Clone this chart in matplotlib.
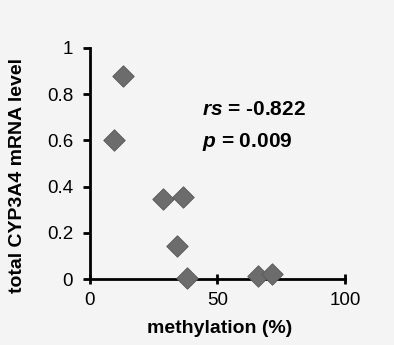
import numpy as np
import matplotlib.pyplot as plt

plt.rcParams['font.family'] = ['Liberation Sans', 'DejaVu Sans']
plt.rcParams['mathtext.fontset'] = 'custom'
plt.rcParams['mathtext.bfit'] = 'Liberation Sans:italic:bold'

methylation = [9.5, 12.9, 28.8, 34.0, 36.3, 38.2, 65.7, 71.2]
mrna_level = [0.60, 0.88, 0.345, 0.145, 0.355, 0.005, 0.012, 0.02]

fig = plt.figure(figsize=(3.94, 3.45), dpi=100, facecolor='#f4f4f4')
ax = fig.add_axes([0.228, 0.191, 0.648, 0.670], facecolor='#f4f4f4')

ax.scatter(methylation, mrna_level, marker='D', s=120, color='#6c6c6c',
           edgecolors='#585858', linewidths=0.6, zorder=3, clip_on=False)

ax.set_xlim(0, 100)
ax.set_ylim(0, 1)
ax.set_xticks([0, 50, 100])
ax.set_yticks([0, 0.2, 0.4, 0.6, 0.8, 1])
ax.set_yticklabels(['0', '0.2', '0.4', '0.6', '0.8', '1'])
for s in ['top', 'right']:
    ax.spines[s].set_visible(False)
for s in ['left', 'bottom']:
    ax.spines[s].set_linewidth(2)
ax.tick_params(axis='both', width=2, labelsize=13.5, colors='black')
ax.tick_params(axis='x', direction='inout', length=7, pad=6)
ax.tick_params(axis='y', direction='out', length=5, pad=7)

ax.set_xlabel('methylation (%)', fontsize=14, fontweight='bold')
ax.set_ylabel('total CYP3A4 mRNA level', fontsize=14, fontweight='bold')
ax.xaxis.set_label_coords(0.51, -0.175)
ax.yaxis.set_label_coords(-0.25, 0.45)

ax.text(44, 0.71, r'$\mathbfit{rs}$' + ' = -0.822', fontsize=15, fontweight='bold')
ax.text(44, 0.57, r'$\mathbfit{p}$' + ' = 0.009', fontsize=15, fontweight='bold')

fig.savefig('out.png', dpi=100, facecolor=fig.get_facecolor())
